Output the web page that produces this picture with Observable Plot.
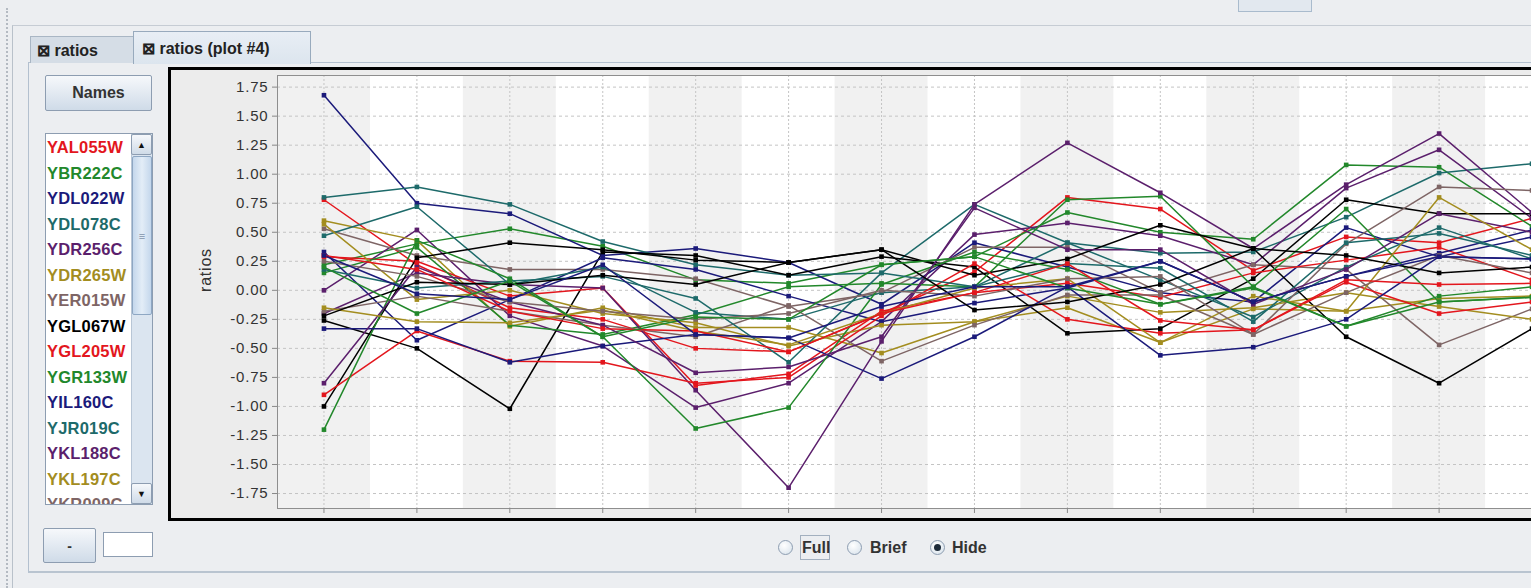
<!DOCTYPE html>
<html><head><meta charset="utf-8">
<script src="https://cdn.jsdelivr.net/npm/d3@7"></script>
<script src="https://cdn.jsdelivr.net/npm/@observablehq/plot@0.6"></script>
<style>
html,body{margin:0;padding:0;width:1531px;height:588px;overflow:hidden;background:#eceef1;font-family:"Liberation Sans",Arial,sans-serif;}
.abs{position:absolute;box-sizing:border-box;}
.btn{background:linear-gradient(#f6f8fb,#cfdbe8);border:1px solid #8d9db1;border-radius:2px;color:#333;font-weight:bold;display:flex;align-items:center;justify-content:center;}
.tab{font-weight:bold;font-size:16px;color:#222;display:flex;align-items:center;}
#list div{height:25.5px;line-height:25.5px;font-weight:bold;font-size:16.5px;letter-spacing:0.2px;white-space:nowrap;}
#chart svg text{letter-spacing:0.8px;}
.radio{width:15px;height:15px;border-radius:50%;border:1px solid #8d9db1;background:radial-gradient(circle at 40% 35%,#ffffff,#d5e0ea);}
.rlab{font-weight:bold;font-size:16px;color:#333;}
</style></head><body>
<div class="abs" style="left:6px;top:8px;width:2px;height:580px;border-left:2px dotted #b4bac2"></div>
<div class="abs" style="left:1238px;top:-2px;width:74px;height:14px;border:1px solid #a9bbcd;background:#e2e8ef"></div>
<div class="abs" style="left:12px;top:25px;width:1530px;height:570px;border-left:1px solid #b9c1ca;border-top:1px solid #c6ccd4"></div>
<div class="abs" style="left:28px;top:62px;width:1520px;height:511px;border:1px solid #b3c0cf;border-bottom:2px solid #b9c4d0;background:#eceef1"></div>
<div class="abs tab" style="left:30px;top:36px;width:104px;height:27px;background:#d5dde6;border:1px solid #a9b6c4;border-bottom:none;padding-left:6px">⊠ ratios</div>
<div class="abs tab" style="left:133px;top:31px;width:178px;height:33px;background:linear-gradient(#e8eef5,#dce5ee);border:1px solid #98aabd;border-bottom:none;padding-left:8px">⊠ ratios (plot #4)</div>
<div class="abs btn" style="left:45px;top:75px;width:107px;height:36px;font-size:16px">Names</div>
<div class="abs" id="listbox" style="left:45px;top:133px;width:108px;height:372px;background:#fff;border:1px solid #8d9db1;overflow:hidden">
  <div id="list" class="abs" style="left:1px;top:1px;width:84px"></div>
  <div class="abs" style="left:85px;top:0;width:21px;height:370px;background:#dbe5f0;border-left:1px solid #b8c6d6"></div>
  <div class="abs btn" style="left:85px;top:0;width:21px;height:21px;font-size:9px;color:#111">▲</div>
  <div class="abs" style="left:86px;top:22px;width:20px;height:159px;background:linear-gradient(90deg,#c4d7ec,#e3edf7,#c4d7ec);border:1px solid #8ea7c3;border-radius:2px;display:flex;align-items:center;justify-content:center;font-size:11px;color:#7f93aa">≡</div>
  <div class="abs btn" style="left:85px;top:349px;width:21px;height:21px;font-size:9px;color:#111">▼</div>
</div>
<div class="abs btn" style="left:43px;top:528px;width:53px;height:35px;font-size:14px">-</div>
<div class="abs" style="left:103px;top:532px;width:50px;height:25px;background:#fff;border:1px solid #8d9db1"></div>
<div class="abs" id="chart" style="left:168px;top:67px;width:1430px;height:454px;border:3px solid #000;background:#ececec"></div>
<div class="abs radio" style="left:778px;top:540px"></div>
<div class="abs rlab" style="left:800px;top:535px;width:30px;height:25px;border:1px solid #a3b0bf;padding-left:1px;line-height:23px">Full</div>
<div class="abs radio" style="left:847px;top:540px"></div>
<div class="abs rlab" style="left:870px;top:536px;line-height:23px">Brief</div>
<div class="abs radio" style="left:930px;top:540px;display:flex;align-items:center;justify-content:center"><div style="width:7px;height:7px;border-radius:50%;background:#1d2b3a"></div></div>
<div class="abs rlab" style="left:952px;top:536px;line-height:23px">Hide</div>
<script>
// ---- data ----
const genes = ["YAL055W","YBR222C","YDL022W","YDL078C","YDR256C","YDR265W","YER015W","YGL067W","YGL205W","YGR133W","YIL160C","YJR019C","YKL188C","YKL197C","YKR009C"];
const palette = ["#e3161d","#22882b","#1b1a7a","#1d6a6a","#5b1f6c","#a38d1f","#7e6565","#000000"];
const categories = [0,1,2,3,4,5,6,7,8,9,10,11,12,13];
const yTicks = [-1.75,-1.5,-1.25,-1.0,-0.75,-0.5,-0.25,0,0.25,0.5,0.75,1.0,1.25,1.5,1.75];
const s00 = [0.78, 0.22, -0.15, -0.25, -0.50, -0.53, -0.20, 0.16, 0.80, 0.70, 0.17, 0.46, 0.41, 0.62];
const s01 = [0.22, 0.40, 0.53, 0.38, 0.09, 0.06, 0.22, 0.29, 0.67, 0.50, 0.44, 1.08, 1.06, 0.55];
const s02 = [1.68, 0.75, 0.66, 0.30, 0.36, 0.24, -0.12, 0.41, 0.20, -0.02, -0.10, 0.54, 0.29, 0.46];
const s03 = [0.80, 0.89, 0.74, 0.42, 0.22, 0.13, 0.15, 0.74, 0.41, 0.32, 0.33, 0.63, 1.01, 1.09];
const s04 = [0.00, 0.52, -0.22, -0.48, -1.01, -0.80, -0.27, 0.48, 0.58, 0.47, 0.22, 0.88, 1.21, 0.62];
const s05 = [0.60, 0.43, -0.31, -0.15, -0.32, -0.32, -0.54, -0.27, -0.15, -0.45, -0.16, -0.18, -0.07, -0.05];
const s06 = [0.53, 0.30, 0.18, 0.18, 0.10, -0.14, -0.02, 0.37, 0.37, -0.02, 0.22, 0.18, -0.47, -0.16];
const s07 = [-0.26, -0.50, -1.02, 0.33, 0.30, 0.13, 0.29, 0.20, -0.37, -0.33, 0.10, 0.78, 0.66, 0.66];
const s08 = [0.29, 0.25, -0.05, 0.02, -0.82, -0.72, -0.18, -0.02, 0.06, -0.06, 0.15, 0.26, 0.37, 0.09];
const s09 = [0.15, 0.37, -0.30, -0.38, -0.21, 0.03, 0.06, 0.03, 0.78, 0.81, 0.03, -0.31, -0.05, 0.03];
const s10 = [0.33, -0.43, -0.08, 0.28, 0.18, -0.05, -0.27, -0.11, 0.02, 0.25, -0.10, 0.12, 0.32, 0.52];
const s11 = [0.47, 0.72, 0.05, 0.20, -0.19, -0.25, -0.02, 0.03, 0.41, 0.09, -0.23, 0.20, 0.54, 0.27];
const s12 = [-0.20, 0.15, 0.05, 0.02, -0.86, -1.70, -0.44, 0.74, 1.27, 0.84, 0.36, 0.91, 1.35, 0.67];
const s13 = [0.57, -0.08, 0.00, -0.20, -0.28, -0.48, -0.30, -0.27, -0.05, -0.19, -0.15, -0.02, -0.14, -0.25];
const s14 = [-0.18, -0.05, -0.18, -0.30, -0.40, -0.13, -0.61, -0.30, -0.04, -0.04, -0.38, 0.40, 0.89, 0.86];
const s15 = [-1.00, 0.28, 0.41, 0.35, 0.26, 0.24, 0.35, 0.13, 0.27, 0.56, 0.36, -0.40, -0.80, -0.33];
const s16 = [-0.90, -0.35, -0.61, -0.62, -0.80, -0.75, -0.22, 0.23, -0.25, -0.37, -0.34, 0.07, -0.20, -0.10];
const s17 = [-1.20, 0.43, 0.10, -0.40, -1.19, -1.01, 0.05, 0.33, 0.18, -0.12, 0.03, 0.70, -0.10, -0.06];
const s18 = [-0.33, -0.33, -0.62, -0.48, -0.38, -0.41, -0.76, -0.40, 0.03, -0.56, -0.49, -0.25, 0.29, 0.27];
const s19 = [0.18, 0.02, 0.08, 0.12, -0.07, -0.62, 0.15, 0.03, 0.23, 0.19, -0.27, 0.41, 0.49, 0.30];
const s20 = [-0.80, 0.20, -0.10, -0.30, -0.71, -0.66, -0.40, 0.71, 0.35, 0.35, -0.12, 0.18, 0.66, 0.50];
const s21 = [-0.15, -0.27, -0.28, -0.17, -0.35, -0.47, -0.20, 0.02, 0.10, -0.45, -0.05, -0.18, 0.80, 0.35];
const s22 = [0.25, 0.12, -0.10, -0.18, -0.25, -0.20, 0.00, -0.05, 0.10, 0.12, -0.38, -0.02, 0.30, 0.15];
const s23 = [-0.22, 0.07, 0.05, 0.13, 0.05, 0.24, 0.35, -0.17, -0.10, 0.05, 0.36, 0.30, 0.15, 0.20];
const s24 = [0.30, 0.18, -0.18, -0.33, -0.35, -0.53, -0.20, -0.02, 0.23, -0.26, -0.34, 0.09, 0.05, 0.06];
const s25 = [0.20, -0.20, 0.08, -0.40, -0.23, -0.25, 0.22, 0.29, 0.02, -0.12, 0.02, -0.31, -0.10, -0.06];
const s26 = [0.30, -0.03, -0.08, 0.22, -0.38, -0.41, -0.14, 0.03, 0.03, 0.25, -0.10, 0.12, 0.29, 0.27];
const seriesValues = [s00,s01,s02,s03,s04,s05,s06,s07,s08,s09,s10,s11,s12,s13,s14,s15,s16,s17,s18,s19,s20,s21,s22,s23,s24,s25,s26];

// list
const list = document.getElementById("list");
genes.forEach((g,i)=>{const d=document.createElement("div");d.textContent=g;d.style.color=palette[i%8];list.appendChild(d);});

const rows = [];
seriesValues.forEach((vals,k)=>vals.forEach((v,i)=>rows.push({k, x: categories[i], y: v, c: palette[k%8]})));
const bands = categories.filter(c=>c%2===0);
const yMin = -1.879, yMax = 1.85;

const svg = Plot.plot({
  width: 1417, height: 448,
  marginLeft: 106, marginRight: 10, marginTop: 5, marginBottom: 10,
  style: {background: "transparent", fontFamily: "Liberation Sans, Arial, sans-serif", fontSize: "15px", color: "#333", overflow: "visible"},
  x: {type: "linear", domain: [-0.5, 13.5], axis: null},
  y: {domain: [yMin, yMax], axis: null},
  color: {type: "identity"},
  marks: [
    Plot.frame({fill: "#ffffff"}),
    Plot.rect(bands, {x1: d=>d-0.5, x2: d=>d+0.5, fill: "#f1f1f1"}),
    Plot.gridY(yTicks, {stroke: "#c4c4c4", strokeOpacity: 1, strokeDasharray: "3,3"}),
    Plot.gridX(categories, {stroke: "#c4c4c4", strokeOpacity: 1, strokeDasharray: "2,2"}),
    Plot.line(rows, {x: "x", y: "y", z: "k", stroke: "c", strokeWidth: 1.5}),
    Plot.dot(rows, {x: "x", y: "y", symbol: "square", r: 2.6, fill: "c", stroke: null}),
    Plot.frame({stroke: "#8e8e8e"}),
    Plot.axisY(yTicks, {tickFormat: d=>d.toFixed(2), tickSize: 5, tickPadding: 4, fontSize: 15, stroke: "#888", fill: "#333", label: null}),
    Plot.axisX(categories, {tickFormat: ()=>"", tickSize: 5, stroke: "#888", label: null}),
    Plot.text(["ratios"], {frameAnchor: "left", dx: -72, rotate: -90, fontSize: 16, fill: "#333"})
  ]
});
svg.style.position = "absolute";
svg.style.left = "0px";
svg.style.top = "0px";
document.getElementById("chart").appendChild(svg);
</script>
</body></html>
